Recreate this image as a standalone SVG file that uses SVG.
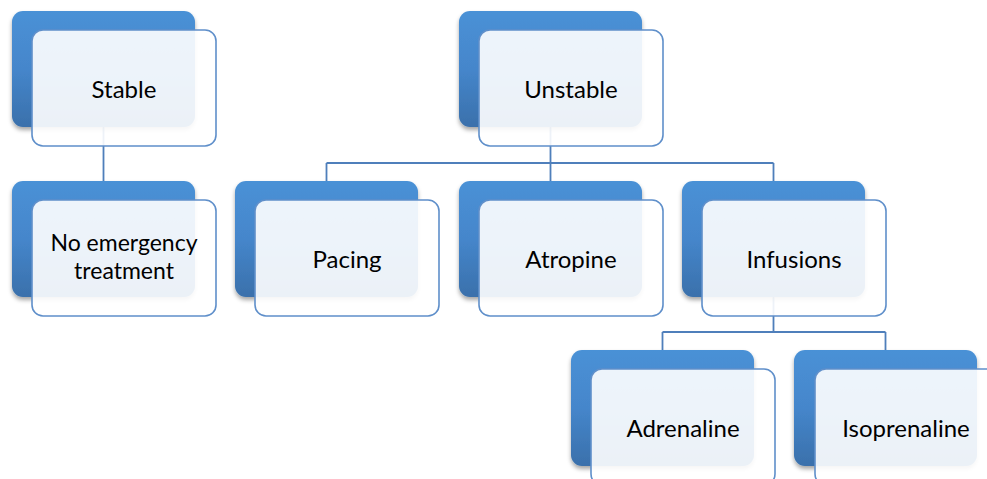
<svg xmlns="http://www.w3.org/2000/svg" width="987" height="479" viewBox="0 0 987 479">
<style>
.back{fill:url(#blueGrad);filter:url(#shadow)}
.front{fill:#ffffff;fill-opacity:0.9;stroke:#5f8fca;stroke-width:1.6}
.lbl{font-family:Lato,"Liberation Sans",sans-serif;font-size:24px;fill:#000;text-anchor:middle}
.lbl2{font-size:23px}
.conn{fill:none;stroke:#4f7fbb;stroke-width:1.8}
</style>
<defs>
<linearGradient id="blueGrad" x1="0" y1="0" x2="0" y2="1">
<stop offset="0" stop-color="#4a91d6"/>
<stop offset="0.5" stop-color="#4586cb"/>
<stop offset="1" stop-color="#3a70ab"/>
</linearGradient>
<filter id="shadow" x="-10%" y="-10%" width="120%" height="130%">
<feDropShadow dx="0" dy="3" stdDeviation="2.2" flood-color="#000" flood-opacity="0.35"/>
</filter>
</defs>
<rect width="987" height="479" fill="#ffffff"/>
<g id="connectors">
<path class="conn" d="M103.5 127V181"/>
<path class="conn" d="M550.5 127V163M326.5 163H773.5M326.5 163V181M550.5 163V181M773.5 163V181"/>
<path class="conn" d="M773.5 297V332M662.5 332H885.5M662.5 332V350M885.5 332V350"/>
</g>
<g id="stable">
<rect class="back" x="12" y="11" width="183" height="116" rx="11"/>
<rect class="front" x="32" y="30" width="184" height="116" rx="11"/>
<text class="lbl" x="124" y="98">Stable</text>
</g>
<g id="no-emergency">
<rect class="back" x="12" y="181" width="183" height="116" rx="11"/>
<rect class="front" x="32" y="200" width="184" height="116" rx="11"/>
<text class="lbl lbl2" x="124" y="251">No emergency</text>
<text class="lbl lbl2" x="124" y="279">treatment</text>
</g>
<g id="unstable">
<rect class="back" x="459" y="11" width="183" height="116" rx="11"/>
<rect class="front" x="479" y="30" width="184" height="116" rx="11"/>
<text class="lbl" x="571" y="98">Unstable</text>
</g>
<g id="pacing">
<rect class="back" x="235" y="181" width="183" height="116" rx="11"/>
<rect class="front" x="255" y="200" width="184" height="116" rx="11"/>
<text class="lbl" x="347" y="268">Pacing</text>
</g>
<g id="atropine">
<rect class="back" x="459" y="181" width="183" height="116" rx="11"/>
<rect class="front" x="479" y="200" width="184" height="116" rx="11"/>
<text class="lbl" x="571" y="268">Atropine</text>
</g>
<g id="infusions">
<rect class="back" x="682" y="181" width="183" height="116" rx="11"/>
<rect class="front" x="702" y="200" width="184" height="116" rx="11"/>
<text class="lbl" x="794" y="268">Infusions</text>
</g>
<g id="adrenaline">
<rect class="back" x="571" y="350" width="183" height="116" rx="11"/>
<rect class="front" x="591" y="369" width="184" height="116" rx="11"/>
<text class="lbl" x="683" y="437">Adrenaline</text>
</g>
<g id="isoprenaline">
<rect class="back" x="794" y="350" width="183" height="116" rx="11"/>
<rect class="front" x="815" y="369" width="184" height="116" rx="11"/>
<text class="lbl" x="906" y="437">Isoprenaline</text>
</g>
</svg>
